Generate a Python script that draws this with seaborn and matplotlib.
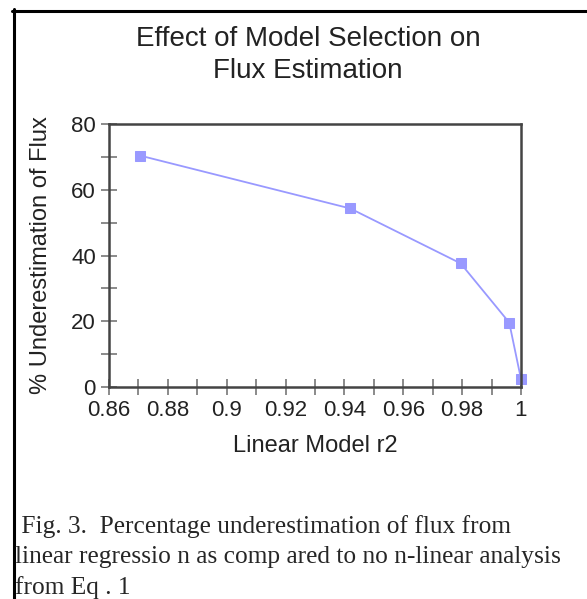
import numpy as np
import pandas as pd
import seaborn as sns
import matplotlib.pyplot as plt
from matplotlib.lines import Line2D
from matplotlib.ticker import MultipleLocator

# values
r2 = [0.8705, 0.942, 0.9795, 0.996, 1.0]
underest = [70.4, 54.3, 37.6, 19.6, 2.4]

x_ticks = [0.86, 0.88, 0.90, 0.92, 0.94, 0.96, 0.98, 1.00]
x_labels = ["0.86", "0.88", "0.9", "0.92", "0.94", "0.96", "0.98", "1"]
y_ticks = [0, 20, 40, 60, 80]

df = pd.DataFrame({"r2": r2, "under": underest})

sns.set_style("white")
plt.rcParams['font.family'] = ['Liberation Sans', 'DejaVu Sans']

fig = plt.figure(figsize=(5.87, 5.99), dpi=100)
ax = fig.add_axes([109/587, 1 - 387/599, 412/587, 263/599])

sns.lineplot(data=df, x="r2", y="under", ax=ax, color="#9999ff",
             marker="s", markersize=6.5, markeredgecolor="#9999ff",
             linewidth=1.3, clip_on=False)

ax.set_xlim(0.86, 1.0)
ax.set_ylim(0, 80)
ax.set_xticks(x_ticks)
ax.set_xticklabels(x_labels)
ax.set_yticks(y_ticks)
ax.xaxis.set_minor_locator(MultipleLocator(0.01))
ax.yaxis.set_minor_locator(MultipleLocator(10))
ax.tick_params(which="both", direction="inout", length=11, width=1.2,
               color="#777777", labelsize=16, pad=4, labelcolor="#222222")
ax.tick_params(which="both", left=True, bottom=True)

for s in ax.spines.values():
    s.set_color("#444444")
    s.set_linewidth(1.8)

ax.set_xlabel("Linear Model r2", fontsize=17, color="#222222")
ax.set_ylabel("% Underestimation of Flux", fontsize=17, color="#222222")
ax.xaxis.set_label_coords(0.5, (387 - 435) / 263)
ax.yaxis.set_label_coords((52 - 109) / 412, 0.5)

fig.text(308/587, 1 - 55/599, "Effect of Model Selection on\nFlux Estimation",
         ha="center", va="center", fontsize=20, linespacing=1.35,
         color="#222222")

caption = (" Fig. 3.  Percentage underestimation of flux from\n"
           "linear regressio n as comp ared to no n-linear analysis\n"
           "from Eq . 1")
fig.text(15/587, 1 - 557/599, caption, ha="left", va="center",
         fontsize=18.3, family="Liberation Serif", linespacing=1.43)

# page frame: left and top edges only
fig.add_artist(Line2D([13.5/587, 13.5/587], [0, 1 - 9/599],
                      transform=fig.transFigure, color="black", linewidth=2.2))
fig.add_artist(Line2D([12/587, 1], [1 - 10.5/599, 1 - 10.5/599],
                      transform=fig.transFigure, color="black", linewidth=2.2))

fig.savefig("out.png", dpi=100)
